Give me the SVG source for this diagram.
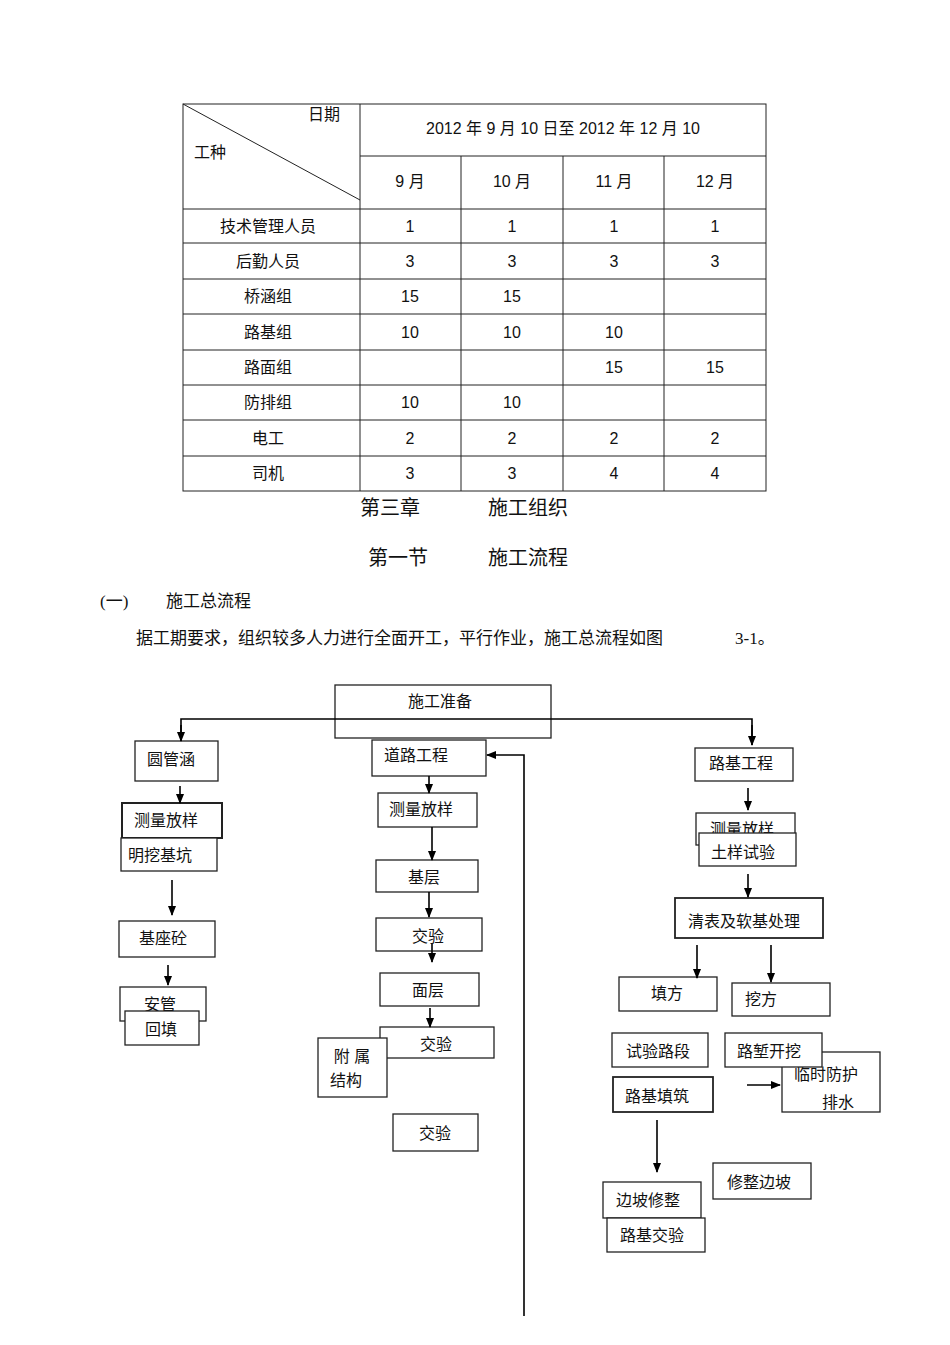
<svg xmlns="http://www.w3.org/2000/svg" width="950" height="1345" viewBox="0 0 950 1345">
<defs><marker id="a" markerWidth="10" markerHeight="10" refX="9" refY="5" orient="auto" markerUnits="userSpaceOnUse"><path d="M0,1 L10,5 L0,9 Z" fill="#000"/></marker></defs>
<style>
.t{font-family:"Liberation Sans","Noto Sans CJK SC",sans-serif;font-size:16px;fill:#111;text-anchor:middle}
.s{font-family:"Liberation Serif","Noto Sans CJK SC",serif;font-size:20px;fill:#111}
.b rect{fill:#fff;stroke:#222;stroke-width:1.3}
.g line,.g polyline{stroke:#000;stroke-width:1.6;fill:none;marker-end:url(#a)}
.tb line{stroke:#222;stroke-width:1}
</style>
<rect width="950" height="1345" fill="#fff"/>
<g id="table" class="tb">
<rect x="183" y="104" width="583" height="387" fill="none" stroke="#222"/>
<line x1="183" y1="104" x2="360" y2="200"/>
<line x1="360" y1="104" x2="360" y2="491"/>
<line x1="461" y1="156" x2="461" y2="491"/>
<line x1="563" y1="156" x2="563" y2="491"/>
<line x1="664" y1="156" x2="664" y2="491"/>
<line x1="360" y1="156" x2="766" y2="156"/>
<line x1="183" y1="209" x2="766" y2="209"/>
<line x1="183" y1="243" x2="766" y2="243"/>
<line x1="183" y1="279" x2="766" y2="279"/>
<line x1="183" y1="314" x2="766" y2="314"/>
<line x1="183" y1="350" x2="766" y2="350"/>
<line x1="183" y1="385" x2="766" y2="385"/>
<line x1="183" y1="420" x2="766" y2="420"/>
<line x1="183" y1="456" x2="766" y2="456"/>
<text class="t" x="324" y="120">日期</text>
<text class="t" x="210" y="158">工种</text>
<text class="t" x="563" y="134">2012 年 9 月 10 日至 2012 年 12 月 10</text>
<text class="t" x="410" y="187">9 月</text><text class="t" x="512" y="187">10 月</text><text class="t" x="614" y="187">11 月</text><text class="t" x="715" y="187">12 月</text>
<g>
<text class="t" x="268" y="232">技术管理人员</text><text class="t" x="410" y="232">1</text><text class="t" x="512" y="232">1</text><text class="t" x="614" y="232">1</text><text class="t" x="715" y="232">1</text>
<text class="t" x="268" y="267">后勤人员</text><text class="t" x="410" y="267">3</text><text class="t" x="512" y="267">3</text><text class="t" x="614" y="267">3</text><text class="t" x="715" y="267">3</text>
<text class="t" x="268" y="302">桥涵组</text><text class="t" x="410" y="302">15</text><text class="t" x="512" y="302">15</text>
<text class="t" x="268" y="338">路基组</text><text class="t" x="410" y="338">10</text><text class="t" x="512" y="338">10</text><text class="t" x="614" y="338">10</text>
<text class="t" x="268" y="373">路面组</text><text class="t" x="614" y="373">15</text><text class="t" x="715" y="373">15</text>
<text class="t" x="268" y="408">防排组</text><text class="t" x="410" y="408">10</text><text class="t" x="512" y="408">10</text>
<text class="t" x="268" y="444">电工</text><text class="t" x="410" y="444">2</text><text class="t" x="512" y="444">2</text><text class="t" x="614" y="444">2</text><text class="t" x="715" y="444">2</text>
<text class="t" x="268" y="479">司机</text><text class="t" x="410" y="479">3</text><text class="t" x="512" y="479">3</text><text class="t" x="614" y="479">4</text><text class="t" x="715" y="479">4</text>
</g>
</g>
<text class="s" x="360" y="515">第三章</text><text class="s" x="488" y="515">施工组织</text>
<text class="s" x="368" y="565">第一节</text><text class="s" x="488" y="565">施工流程</text>
<text class="s" x="100" y="607" style="font-size:17px">(一)</text><text class="s" x="166" y="607" style="font-size:17px">施工总流程</text>
<text class="s" x="136" y="644" style="font-size:17px">据工期要求，组织较多人力进行全面开工，平行作业，施工总流程如图</text>
<text class="s" x="735" y="644" style="font-size:17px">3-1。</text>
<g class="b">
<g id="n1"><rect x="335" y="685" width="216" height="53"/><text class="t" x="440" y="707">施工准备</text></g>
<g id="n2"><rect x="135" y="741" width="83" height="40"/><text class="t" x="171" y="765">圆管涵</text></g>
<g id="n3"><rect x="122" y="803" width="100" height="35" style="stroke-width:2"/><text class="t" x="166" y="826">测量放样</text></g>
<g id="n4"><rect x="121" y="838" width="96" height="33"/><text class="t" x="160" y="861">明挖基坑</text></g>
<g id="n5"><rect x="119" y="921" width="96" height="36"/><text class="t" x="163" y="944">基座砼</text></g>
<g id="n6"><rect x="120" y="987" width="86" height="34"/><text class="t" x="160" y="1010">安管</text></g>
<g id="n7"><rect x="125" y="1011" width="74" height="34"/><text class="t" x="161" y="1035">回填</text></g>
<g id="n8"><rect x="372" y="740" width="114" height="36"/><text class="t" x="416" y="761">道路工程</text></g>
<g id="n9"><rect x="378" y="793" width="99" height="34"/><text class="t" x="421" y="815">测量放样</text></g>
<g id="n10"><rect x="376" y="860" width="102" height="32"/><text class="t" x="424" y="883">基层</text></g>
<g id="n11"><rect x="376" y="918" width="106" height="33"/><text class="t" x="428" y="942">交验</text></g>
<g id="n12"><rect x="380" y="973" width="99" height="33"/><text class="t" x="428" y="996">面层</text></g>
<g id="n13"><rect x="380" y="1027" width="114" height="31"/><text class="t" x="436" y="1050">交验</text></g>
<g id="n14"><rect x="318" y="1038" width="69" height="59"/><text class="t" x="352" y="1062">附  属</text><text class="t" x="346" y="1086">结构</text></g>
<g id="n15"><rect x="393" y="1114" width="85" height="37"/><text class="t" x="435" y="1139">交验</text></g>
<g id="n16"><rect x="695" y="748" width="98" height="33"/><text class="t" x="741" y="769">路基工程</text></g>
<g id="n17"><rect x="696" y="813" width="99" height="32"/><text class="t" x="742" y="835">测量放样</text></g>
<g id="n18"><rect x="699" y="833" width="97" height="33"/><text class="t" x="743" y="858">土样试验</text></g>
<g id="n19"><rect x="675" y="898" width="148" height="40" style="stroke-width:1.8"/><text class="t" x="744" y="927">清表及软基处理</text></g>
<g id="n20"><rect x="619" y="977" width="98" height="34"/><text class="t" x="667" y="1009" dy="-10">填方</text></g>
<g id="n21"><rect x="732" y="983" width="98" height="33"/><text class="t" x="761" y="1015" dy="-10">挖方</text></g>
<g id="n22"><rect x="612" y="1033" width="96" height="34"/><text class="t" x="658" y="1057">试验路段</text></g>
<g id="n24"><rect x="782" y="1052" width="98" height="60"/><text class="t" x="826" y="1080">临时防护</text><text class="t" x="838" y="1108">排水</text></g>
<g id="n23"><rect x="725" y="1033" width="97" height="34"/><text class="t" x="769" y="1057">路堑开挖</text></g>
<g id="n25"><rect x="613" y="1077" width="100" height="35" style="stroke-width:1.8"/><text class="t" x="657" y="1112" dy="-10">路基填筑</text></g>
<g id="n26"><rect x="713" y="1163" width="98" height="36"/><text class="t" x="759" y="1188">修整边坡</text></g>
<g id="n27"><rect x="603" y="1182" width="98" height="36"/><text class="t" x="648" y="1206">边坡修整</text></g>
<g id="n28"><rect x="607" y="1218" width="98" height="34"/><text class="t" x="652" y="1241">路基交验</text></g>
</g>
<g id="connectors" class="g">
<polyline points="181,741 181,719 752,719 752,745" style="marker-end:none"/>
<line x1="181" y1="725" x2="181" y2="741"/>
<line x1="752" y1="725" x2="752" y2="745"/>
<line x1="180" y1="786" x2="180" y2="803"/>
<line x1="172" y1="880" x2="172" y2="915"/>
<line x1="168" y1="965" x2="168" y2="985"/>
<line x1="429" y1="776" x2="429" y2="793"/>
<line x1="432" y1="827" x2="432" y2="860"/>
<line x1="429" y1="892" x2="429" y2="917"/>
<line x1="432" y1="944" x2="432" y2="962"/>
<line x1="430" y1="1008" x2="430" y2="1027"/>
<polyline points="524,1316 524,755 487,755"/>
<line x1="748" y1="788" x2="748" y2="810"/>
<line x1="748" y1="874" x2="748" y2="897"/>
<line x1="697" y1="945" x2="697" y2="978"/>
<line x1="771" y1="945" x2="771" y2="982"/>
<line x1="747" y1="1085" x2="780" y2="1085"/>
<line x1="657" y1="1120" x2="657" y2="1172"/>
</g>
</svg>
